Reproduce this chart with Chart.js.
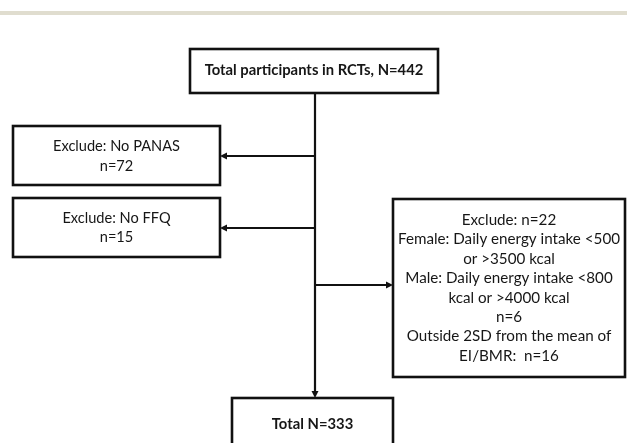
<!DOCTYPE html>
<html><head><meta charset="utf-8">
<script src="https://cdn.jsdelivr.net/npm/chart.js@4/dist/chart.umd.min.js"></script>
<style>html,body{margin:0;padding:0;background:#fff}canvas{display:block}</style>
</head><body>
<canvas id="c" width="627" height="443"></canvas>
<script>
// ---- data ----
const totalStart = 442;
const excludeLabels = ["No PANAS", "No FFQ"];
const excludeCounts = [72, 15];
const energyExclude = 22;
const femaleRange = [500, 3500];
const maleRange = [800, 4000];
const energyCount = 6;
const sdCount = 16;
const totalFinal = 333;

// ---- text built from data ----
const boxTexts = {
  top: ["Total participants in RCTs, N=" + totalStart],
  ex1: ["Exclude: " + excludeLabels[0], "n=" + excludeCounts[0]],
  ex2: ["Exclude: " + excludeLabels[1], "n=" + excludeCounts[1]],
  ex3: ["Exclude: n=" + energyExclude,
        "Female: Daily energy intake <" + femaleRange[0],
        "or >" + femaleRange[1] + " kcal",
        "Male: Daily energy intake <" + maleRange[0],
        "kcal or >" + maleRange[1] + " kcal",
        "n=" + energyCount,
        "Outside 2SD from the mean of",
        "EI/BMR:  n=" + sdCount],
  bot: ["Total N=" + totalFinal]
};

// ---- layout (in scale units) ----
const layout = {
  top: {x0:190, x1:438, y0:49, y1:93, bold:true, size:14.8, lh:19, cy:70},
  ex1: {x0:13, x1:220, y0:126, y1:185, bold:false, size:14.6, lh:19.5, cy:156.5},
  ex2: {x0:13, x1:220, y0:198, y1:257, bold:false, size:14.6, lh:19.5, cy:228},
  ex3: {x0:393, x1:625, y0:199, y1:377, bold:false, size:15.2, lh:19.4, cy:288},
  bot: {x0:232, x1:393, y0:398, y1:460, bold:true, size:14.8, lh:19, cy:424}
};
const spineX = 315;
const arrows = [
  {from:[spineX,156], to:[220,156]},
  {from:[spineX,228], to:[220,228]},
  {from:[spineX,285], to:[393,285]},
  {from:[spineX,93], to:[spineX,398]}
];

const FONT = "Lato, 'Open Sans', 'Liberation Sans', sans-serif";

const flowPlugin = {
  id: 'flow',
  beforeDraw(chart) {
    const ctx = chart.ctx;
    ctx.save();
    ctx.fillStyle = '#fff';
    ctx.fillRect(0, 0, chart.width, chart.height);
    const ys = chart.scales.y;
    ctx.fillStyle = '#e0ddcf';
    ctx.fillRect(0, ys.getPixelForValue(11), chart.width, ys.getPixelForValue(15) - ys.getPixelForValue(11));
    ctx.restore();
  },
  afterDraw(chart) {
    const ctx = chart.ctx;
    const xs = chart.scales.x, ys = chart.scales.y;
    const X = v => xs.getPixelForValue(v), Y = v => ys.getPixelForValue(v);
    ctx.save();
    ctx.strokeStyle = '#111';
    ctx.fillStyle = '#111';
    // connectors
    ctx.lineWidth = 2.2;
    arrows.forEach(a => {
      const fx = X(a.from[0]), fy = Y(a.from[1]), tx = X(a.to[0]), ty = Y(a.to[1]);
      const ang = Math.atan2(ty - fy, tx - fx);
      const hl = 7, hw = 3.5;
      const bx = tx - Math.cos(ang) * hl, by = ty - Math.sin(ang) * hl;
      ctx.beginPath(); ctx.moveTo(fx, fy); ctx.lineTo(bx, by); ctx.stroke();
      ctx.beginPath();
      ctx.moveTo(tx, ty);
      ctx.lineTo(bx - Math.sin(ang) * hw, by + Math.cos(ang) * hw);
      ctx.lineTo(bx + Math.sin(ang) * hw, by - Math.cos(ang) * hw);
      ctx.closePath(); ctx.fill();
    });
    // boxes
    Object.keys(layout).forEach(k => {
      const b = layout[k];
      const x0 = X(b.x0), x1 = X(b.x1), y0 = Y(b.y0), y1 = Y(b.y1);
      ctx.fillStyle = '#fff';
      ctx.fillRect(x0, y0, x1 - x0, y1 - y0);
      ctx.lineWidth = 2.6;
      ctx.strokeStyle = '#111';
      ctx.strokeRect(x0, y0, x1 - x0, y1 - y0);
      const lines = boxTexts[k];
      ctx.fillStyle = '#161616';
      ctx.font = (b.bold ? 'bold ' : '') + b.size + 'px ' + FONT;
      ctx.textAlign = 'center';
      ctx.textBaseline = 'middle';
      const cx = (x0 + x1) / 2;
      const cy = Y(b.cy);
      const start = cy - (lines.length - 1) * b.lh / 2;
      lines.forEach((t, i) => ctx.fillText(t, cx, start + i * b.lh));
    });
    ctx.restore();
  }
};

new Chart(document.getElementById('c'), {
  type: 'scatter',
  data: { datasets: [{ data: [], pointRadius: 0 }] },
  options: {
    responsive: false,
    animation: false,
    layout: { padding: 0 },
    plugins: { legend: { display: false }, tooltip: { enabled: false } },
    scales: {
      x: { type: 'linear', min: 0, max: 627, display: false },
      y: { type: 'linear', min: 0, max: 443, reverse: true, display: false }
    }
  },
  plugins: [flowPlugin]
});
</script>
</body></html>
